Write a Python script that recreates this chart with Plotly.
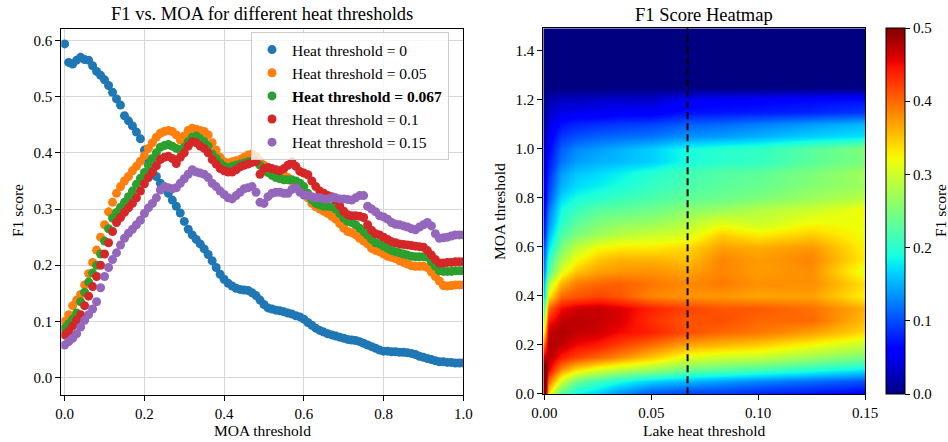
import numpy as np
import plotly.graph_objects as go

# ---------------- data: F1 vs MOA threshold (left panel) ----------------
moa = np.round(np.arange(0, 1.0001, 0.01), 2)

f1_h0 = [0.594, 0.561, 0.558, 0.565, 0.570, 0.566, 0.565, 0.555, 0.545, 0.538,
         0.530, 0.520, 0.508, 0.496, 0.485, 0.466, 0.457, 0.448, 0.437, 0.425,
         0.405, 0.385, 0.368, 0.358, 0.346, 0.338, 0.328, 0.316, 0.305, 0.293,
         0.278, 0.264, 0.254, 0.246, 0.238, 0.229, 0.219, 0.208, 0.196, 0.184,
         0.175, 0.168, 0.163, 0.159, 0.157, 0.156, 0.155, 0.151, 0.146, 0.138,
         0.130, 0.124, 0.122, 0.120, 0.119, 0.117, 0.115, 0.113, 0.110, 0.108,
         0.104, 0.098, 0.093, 0.088, 0.084, 0.081, 0.078, 0.076, 0.074, 0.072,
         0.070, 0.068, 0.067, 0.066, 0.064, 0.061, 0.058, 0.055, 0.052, 0.049,
         0.047, 0.047, 0.046, 0.046, 0.045, 0.045, 0.044, 0.043, 0.041, 0.038,
         0.036, 0.034, 0.032, 0.030, 0.028, 0.028, 0.027, 0.027, 0.026, 0.026,
         0.026]

f1_h005 = [0.100, 0.112, 0.128, 0.138, 0.148, 0.165, 0.185, 0.205, 0.227, 0.250,
           0.272, 0.295, 0.312, 0.328, 0.340, 0.350, 0.358, 0.368, 0.376, 0.385,
           0.395, 0.408, 0.418, 0.428, 0.435, 0.438, 0.440, 0.438, 0.432, 0.423,
           0.430, 0.440, 0.444, 0.442, 0.440, 0.438, 0.432, 0.418, 0.405, 0.392,
           0.384, 0.382, 0.384, 0.386, 0.388, 0.392, 0.396, 0.398, 0.394, 0.386,
           0.378, 0.374, 0.370, 0.366, 0.362, 0.360, 0.356, 0.350, 0.344, 0.338,
           0.330, 0.320, 0.310, 0.304, 0.300, 0.296, 0.292, 0.287, 0.282, 0.274,
           0.266, 0.260, 0.258, 0.254, 0.248, 0.243, 0.238, 0.230, 0.226, 0.224,
           0.220, 0.216, 0.214, 0.212, 0.208, 0.205, 0.202, 0.199, 0.198, 0.198,
           0.198, 0.196, 0.188, 0.180, 0.172, 0.164, 0.163, 0.164, 0.165, 0.165,
           0.165]

f1_h0067 = [0.088, 0.096, 0.104, 0.115, 0.135, 0.152, 0.170, 0.186, 0.200, 0.220,
            0.243, 0.265, 0.284, 0.294, 0.303, 0.312, 0.322, 0.332, 0.344, 0.355,
            0.365, 0.378, 0.390, 0.400, 0.410, 0.413, 0.415, 0.412, 0.408, 0.405,
            0.410, 0.420, 0.428, 0.430, 0.425, 0.420, 0.412, 0.398, 0.390, 0.382,
            0.376, 0.374, 0.376, 0.378, 0.380, 0.382, 0.384, 0.385, 0.384, 0.378,
            0.368, 0.365, 0.360, 0.356, 0.354, 0.352, 0.352, 0.352, 0.350, 0.346,
            0.340, 0.328, 0.316, 0.310, 0.307, 0.305, 0.305, 0.304, 0.300, 0.292,
            0.284, 0.278, 0.276, 0.272, 0.266, 0.260, 0.254, 0.246, 0.240, 0.238,
            0.234, 0.230, 0.226, 0.224, 0.222, 0.220, 0.218, 0.216, 0.215, 0.215,
            0.215, 0.214, 0.206, 0.198, 0.190, 0.189, 0.189, 0.189, 0.190, 0.190,
            0.190]

f1_h01 = [0.076, 0.082, 0.092, 0.102, 0.112, 0.128, 0.145, 0.162, 0.180, 0.200,
          0.220, 0.240, 0.260, 0.276, 0.285, 0.294, 0.302, 0.310, 0.320, 0.332,
          0.345, 0.356, 0.366, 0.377, 0.388, 0.392, 0.394, 0.390, 0.381, 0.392,
          0.400, 0.412, 0.420, 0.418, 0.412, 0.408, 0.400, 0.388, 0.380, 0.372,
          0.368, 0.366, 0.366, 0.370, 0.375, 0.378, 0.380, 0.383, 0.384, 0.362,
          0.372, 0.374, 0.372, 0.370, 0.368, 0.372, 0.378, 0.384, 0.376, 0.367,
          0.364, 0.361, 0.350, 0.340, 0.332, 0.328, 0.324, 0.322, 0.316, 0.306,
          0.296, 0.290, 0.288, 0.288, 0.287, 0.285, 0.272, 0.262, 0.256, 0.254,
          0.250, 0.246, 0.242, 0.240, 0.238, 0.237, 0.236, 0.235, 0.234, 0.233,
          0.232, 0.226, 0.218, 0.210, 0.204, 0.204, 0.205, 0.205, 0.206, 0.206,
          0.206]

f1_h015 = [0.058, 0.064, 0.070, 0.078, 0.090, 0.102, 0.112, 0.122, 0.135, 0.160,
           0.180, 0.196, 0.210, 0.222, 0.236, 0.248, 0.257, 0.264, 0.272, 0.280,
           0.292, 0.302, 0.310, 0.320, 0.334, 0.340, 0.338, 0.336, 0.338, 0.346,
           0.354, 0.362, 0.370, 0.366, 0.364, 0.362, 0.356, 0.346, 0.340, 0.332,
           0.326, 0.320, 0.318, 0.324, 0.330, 0.336, 0.338, 0.340, 0.330, 0.312,
           0.310, 0.322, 0.328, 0.330, 0.330, 0.328, 0.328, 0.335, 0.338, 0.330,
           0.325, 0.324, 0.322, 0.320, 0.320, 0.318, 0.318, 0.320, 0.320, 0.318,
           0.318, 0.317, 0.316, 0.320, 0.324, 0.324, 0.305, 0.300, 0.295, 0.288,
           0.286, 0.282, 0.276, 0.273, 0.272, 0.270, 0.268, 0.265, 0.263, 0.268,
           0.272, 0.276, 0.270, 0.256, 0.248, 0.249, 0.250, 0.252, 0.254, 0.254,
           0.254]

series_names = ["Heat threshold = 0", "Heat threshold = 0.05",
                "<b>Heat threshold = 0.067</b>", "Heat threshold = 0.1",
                "Heat threshold = 0.15"]
series_values = [f1_h0, f1_h005, f1_h0067, f1_h01, f1_h015]
series_colors = ["#1f77b4", "#ff7f0e", "#2ca02c", "#d62728", "#9467bd"]

# ---------------- data: heatmap (right panel) ----------------
heat_x = [0, 0.002, 0.008, 0.015, 0.025, 0.035, 0.05, 0.067, 0.083, 0.1, 0.125, 0.15]
heat_moa = np.round(np.arange(0, 1.5001, 0.05), 2)
highlight_threshold = 0.067

# upper rows (MOA 1.05 .. 1.5) for the columns that match the plotted series
tail_h0 = [0.02, 0.015, 0.01, 0.005, 0, 0, 0, 0, 0, 0]
tail_h005 = [0.12, 0.095, 0.055, 0.035, 0, 0, 0, 0, 0, 0]
tail_h0067 = [0.135, 0.11, 0.07, 0.055, 0, 0, 0, 0, 0, 0]
tail_h01 = [0.15, 0.125, 0.075, 0.06, 0, 0, 0, 0, 0, 0]
tail_h015 = [0.175, 0.155, 0.09, 0.07, 0, 0, 0, 0, 0, 0]

# other heat-threshold columns, MOA 0 .. 1.5 in steps of 0.05
col_h0002 = [0.33, 0.40, 0.46, 0.48, 0.48, 0.47, 0.44, 0.40, 0.33, 0.28, 0.22,
             0.20, 0.17, 0.15, 0.13, 0.12, 0.10, 0.09, 0.08, 0.07, 0.06,
             0.05, 0.04, 0.03, 0.02, 0, 0, 0, 0, 0, 0]
col_h0008 = [0.22, 0.30, 0.38, 0.44, 0.47, 0.48, 0.47, 0.45, 0.40, 0.36, 0.31,
             0.28, 0.25, 0.22, 0.20, 0.19, 0.17, 0.15, 0.14, 0.12, 0.11,
             0.09, 0.07, 0.045, 0.03, 0, 0, 0, 0, 0, 0]
col_h0015 = [0.18, 0.24, 0.34, 0.42, 0.45, 0.47, 0.475, 0.465, 0.41, 0.39, 0.35,
             0.32, 0.29, 0.25, 0.23, 0.21, 0.19, 0.17, 0.16, 0.14, 0.13,
             0.10, 0.08, 0.05, 0.03, 0, 0, 0, 0, 0, 0]
col_h0025 = [0.16, 0.21, 0.31, 0.40, 0.44, 0.465, 0.47, 0.47, 0.42, 0.40, 0.37,
             0.35, 0.32, 0.27, 0.25, 0.23, 0.20, 0.18, 0.17, 0.15, 0.14,
             0.11, 0.085, 0.05, 0.035, 0, 0, 0, 0, 0, 0]
col_h0035 = [0.13, 0.19, 0.29, 0.38, 0.42, 0.45, 0.46, 0.46, 0.41, 0.405, 0.375,
             0.36, 0.33, 0.285, 0.26, 0.235, 0.21, 0.19, 0.18, 0.155, 0.15,
             0.115, 0.09, 0.055, 0.035, 0, 0, 0, 0, 0, 0]
col_h0083 = [0.085, 0.14, 0.232, 0.30, 0.355, 0.40, 0.415, 0.41, 0.375, 0.39, 0.385,
             0.385, 0.37, 0.345, 0.31, 0.27, 0.24, 0.23, 0.225, 0.20, 0.20,
             0.14, 0.115, 0.072, 0.058, 0, 0, 0, 0, 0, 0]
col_h0125 = [0.068, 0.115, 0.20, 0.27, 0.32, 0.37, 0.40, 0.395, 0.37, 0.38, 0.38,
             0.385, 0.375, 0.345, 0.32, 0.30, 0.27, 0.255, 0.25, 0.23, 0.23,
             0.165, 0.14, 0.08, 0.065, 0, 0, 0, 0, 0, 0]

def from_series(vals, tail):
    return list(vals[::5]) + list(tail)

heat_columns = [
    from_series(f1_h0, tail_h0), col_h0002, col_h0008, col_h0015, col_h0025,
    col_h0035, from_series(f1_h005, tail_h005), from_series(f1_h0067, tail_h0067),
    col_h0083, from_series(f1_h01, tail_h01), col_h0125, from_series(f1_h015, tail_h015),
]
heat_z = np.array(heat_columns).T  # rows = MOA, cols = heat threshold

jet = [[0.0, "rgb(0,0,128)"], [0.11, "rgb(0,0,255)"], [0.125, "rgb(0,0,255)"],
       [0.34, "rgb(0,219,255)"], [0.35, "rgb(0,230,247)"], [0.375, "rgb(21,255,226)"],
       [0.64, "rgb(239,255,8)"], [0.65, "rgb(247,245,0)"], [0.66, "rgb(255,236,0)"],
       [0.89, "rgb(255,19,0)"], [0.91, "rgb(232,0,0)"], [1.0, "rgb(128,0,0)"]]

FONT = "Liberation Serif"
W, H = 948, 442

fig = go.Figure()
for i, (name, vals, col) in enumerate(zip(series_names, series_values, series_colors)):
    fig.add_trace(go.Scatter(x=moa, y=vals, mode="markers", name=name,
                             legendgroup=f"g{i}",
                             marker=dict(color=col, size=9, line=dict(width=0)),
                             xaxis="x", yaxis="y"))

fig.add_trace(go.Heatmap(
    x=heat_x, y=heat_moa, z=heat_z, zmin=0, zmax=0.5, zsmooth="best",
    colorscale=jet, xaxis="x2", yaxis="y2", showlegend=False,
    colorbar=dict(x=886 / W, xanchor="left", xpad=0, thickness=19,
                  thicknessmode="pixels", len=366, lenmode="pixels",
                  y=(H - 211) / H, yanchor="middle", ypad=0,
                  outlinecolor="black", outlinewidth=1,
                  tickvals=[0, 0.1, 0.2, 0.3, 0.4, 0.5], tickformat=".1f",
                  ticks="outside", ticklen=5, tickcolor="black",
                  tickfont=dict(size=15, color="black", family=FONT)),
))

fig.add_shape(type="line", xref="x2", yref="y2 domain",
              x0=highlight_threshold, x1=highlight_threshold, y0=0, y1=1,
              line=dict(color="black", width=2, dash="7px,4px"))

axis_common = dict(showline=True, linecolor="black", linewidth=1, mirror=True,
                   ticks="outside", ticklen=5, tickcolor="black", zeroline=False,
                   tickfont=dict(size=15, color="black", family=FONT))

def ann(text, x, y, size=15.5, angle=0):
    return dict(text=text, x=x / W, y=(H - y) / H, xref="paper", yref="paper",
                showarrow=False, xanchor="center", yanchor="middle", textangle=angle,
                font=dict(size=size, family=FONT, color="black"))

fig.update_layout(
    width=W, height=H,
    margin=dict(l=0, r=0, t=0, b=0, autoexpand=False),
    paper_bgcolor="white", plot_bgcolor="white",
    font=dict(family=FONT, color="black"),
    xaxis=dict(domain=[61.3 / W, 463.3 / W], range=[-0.0085, 1.0], anchor="y",
               tickvals=[0, 0.2, 0.4, 0.6, 0.8, 1.0], tickformat=".1f",
               showgrid=True, gridcolor="#d6d6d6", gridwidth=1, **axis_common),
    yaxis=dict(domain=[(H - 395) / H, (H - 29) / H], range=[-0.031, 0.6205],
               anchor="x", tickvals=[0, 0.1, 0.2, 0.3, 0.4, 0.5, 0.6], tickformat=".1f",
               showgrid=True, gridcolor="#d6d6d6", gridwidth=1, **axis_common),
    xaxis2=dict(domain=[543.3 / W, 865 / W], range=[-0.0005, 0.15], anchor="y2",
                tickvals=[0, 0.05, 0.1, 0.15], tickformat=".2f", showgrid=False,
                **axis_common),
    yaxis2=dict(domain=[(H - 394.3) / H, (H - 28.3) / H], range=[-0.002, 1.4926],
                anchor="x2", tickvals=[0, 0.2, 0.4, 0.6, 0.8, 1.0, 1.2, 1.4],
                tickformat=".1f", showgrid=False, **axis_common),
    legend=dict(x=251 / W, y=(H - 32) / H, xanchor="left", yanchor="top",
                bgcolor="rgba(255,255,255,0.8)", bordercolor="#cccccc", borderwidth=1,
                font=dict(size=15.5, color="black", family=FONT),
                tracegroupgap=3, traceorder="normal"),
    showlegend=True,
    annotations=[
        ann("F1 vs. MOA for different heat thresholds", 262.3, 14, size=18.5),
        ann("F1 Score Heatmap", 704, 15, size=18.5),
        ann("MOA threshold", 262.3, 430),
        ann("F1 score", 17, 211, angle=-90),
        ann("Lake heat threshold", 704, 430),
        ann("MOA threshold", 499, 211, angle=-90),
        ann("F1 score", 940, 211, angle=-90),
    ],
)

fig.write_html("out.html", config={"displayModeBar": False},
               post_script="document.body.style.margin='0';"
                           "document.body.style.overflow='hidden';")
